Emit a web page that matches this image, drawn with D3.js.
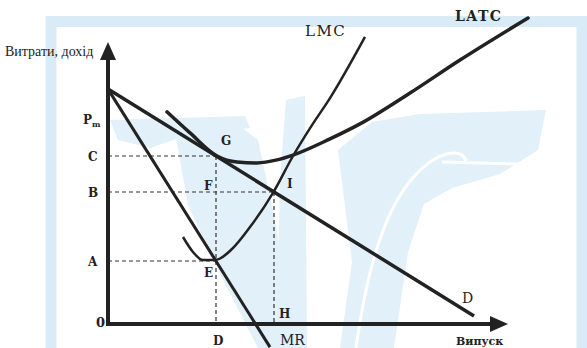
<!DOCTYPE html>
<html>
<head>
<meta charset="utf-8">
<script src="https://cdn.jsdelivr.net/npm/d3@7"></script>
<style>
  body { margin: 0; background: #fff; }
  svg { display: block; }
</style>
</head>
<body>
<div id="chart-area"></div>
<script>
// ceny i ilosci (skala umowna 0-100)
var pm = 78.3;
var priceLevels = [["C", 56], ["B", 44], ["A", 21]];
var qD = 27, qH = 41.5;

var demand = [[0, 78.3], [91.5, 2.7]];
var mr = [[0, 78.3], [40.5, -7.7]];
var latc = [[14.75, 70.7], [20.5, 63.7], [27.25, 56], [32.25, 54], [37.25, 53.7], [42.25, 54.7],
            [46.25, 56.3], [55.5, 61.7], [63, 66.7], [75.5, 77], [88, 88], [105, 102]];
var lmc = [[18.75, 29], [21.25, 24], [23.75, 21.3], [26.75, 21.3], [31, 25], [35.5, 32.3],
           [41.25, 43.7], [46.25, 56], [51, 66.3], [55.5, 75.3], [64.25, 95.7]];
var axisTop = 94, axisRight = 100;

var W = 587, H = 348;
var ink = "#222";

var svg = d3.select("#chart-area")
    .append("svg")
    .attr("width", W)
    .attr("height", H);

// tlo - znak wodny (jasnoniebieski)
var wm = svg.append("g").attr("fill", "#e2f0f9");
wm.append("rect")
    .attr("x", 51).attr("y", 21.5).attr("width", 531).attr("height", 400)
    .attr("fill", "none").attr("stroke", "#d8ebf6").attr("stroke-width", 11);
[
  "M110,120 L245,116 L250,128 L185,136 L150,148 L118,140 Z",
  "M176,138 L232,120 L258,140 L272,205 L298,348 L258,348 L224,282 L188,205 Z",
  "M286,100 L305,96 L307,348 L277,348 L280,180 Z",
  "M338,150 L372,122 L420,114 L546,110 L538,150 L500,174 L452,188 L424,204 L408,252 L394,348 L340,348 L352,262 Z"
].forEach(function (d) { wm.append("path").attr("d", d); });
wm.append("path")
    .attr("d", "M356,348 C368,262 388,192 430,162 C452,148 466,152 466,164")
    .attr("fill", "none").attr("stroke", "#fff").attr("stroke-width", 3);
wm.append("path")
    .attr("d", "M442,162 L518,164")
    .attr("fill", "none").attr("stroke", "#fff").attr("stroke-width", 3);

// skale
var x = d3.scaleLinear().domain([0, 100]).range([108, 508]);
var y = d3.scaleLinear().domain([0, 100]).range([324, 24]);

var line = d3.line().x(function (d) { return x(d[0]); }).y(function (d) { return y(d[1]); });
var smooth = d3.line().x(function (d) { return x(d[0]); }).y(function (d) { return y(d[1]); })
    .curve(d3.curveMonotoneX);

// linie przerywane
var dash = svg.append("g")
    .attr("stroke", "#333").attr("stroke-width", 1.2)
    .attr("stroke-dasharray", "4,3").attr("fill", "none");
priceLevels.forEach(function (p) {
    var qq = p[0] == "B" ? qH : qD;
    dash.append("line").attr("x1", x(0)).attr("x2", x(qq)).attr("y1", y(p[1])).attr("y2", y(p[1]));
});
dash.append("line").attr("x1", x(qD)).attr("x2", x(qD)).attr("y1", y(56)).attr("y2", y(0));
dash.append("line").attr("x1", x(qH)).attr("x2", x(qH)).attr("y1", y(44)).attr("y2", y(0));

// krzywe
svg.append("path").attr("d", line(demand)).attr("fill", "none")
    .attr("stroke", ink).attr("stroke-width", 3.5);
svg.append("path").attr("d", line(mr)).attr("fill", "none")
    .attr("stroke", ink).attr("stroke-width", 3);
svg.append("path").attr("d", smooth(latc)).attr("fill", "none")
    .attr("stroke", ink).attr("stroke-width", 3.5).attr("stroke-linecap", "round");
svg.append("path").attr("d", smooth(lmc)).attr("fill", "none")
    .attr("stroke", ink).attr("stroke-width", 2.5);

// osie ze strzalkami
svg.append("line").attr("x1", x(0)).attr("y1", y(0) + 2).attr("x2", x(0)).attr("y2", y(axisTop) + 10)
    .attr("stroke", ink).attr("stroke-width", 4);
svg.append("line").attr("x1", x(0) - 2).attr("y1", y(0)).attr("x2", x(axisRight) - 10).attr("y2", y(0))
    .attr("stroke", ink).attr("stroke-width", 4);
svg.append("path")
    .attr("d", "M" + x(0) + "," + y(axisTop) + " l-8,18 l16,0 Z").attr("fill", ink);
svg.append("path")
    .attr("d", "M" + x(axisRight) + "," + y(0) + " l-18,-8 l0,16 Z").attr("fill", ink);

// podpisy
function label(txt, px, py, size, bold, family) {
    return svg.append("text").attr("x", px).attr("y", py)
        .attr("font-family", family || "DejaVu Serif")
        .attr("font-size", size)
        .attr("font-weight", bold ? "bold" : "normal")
        .attr("fill", ink)
        .text(txt);
}

label("Витрати, дохід", 5, 56, 14, false, "Liberation Serif");
var pmText = label("P", 83, y(pm) + 35, 12, true);
pmText.append("tspan").attr("font-size", 8).attr("dy", 3).text("m");
priceLevels.forEach(function (p) {
    label(p[0], 88, y(p[1]) + 5, 12, true);
});
label("0", 96, y(0) + 3, 13, true);
label("D", x(qD) - 3, 345, 12, true);
label("H", x(qH) + 5, 318, 12, true);
label("G", x(qD) + 5, 145, 12, true);
label("F", x(qD) - 12, 190, 12, true);
label("I", x(qH) + 13, 188, 12, true);
label("E", x(qD) - 12, 277, 12, true);
label("LMC", 305, 36, 15, false).attr("letter-spacing", 1.5);
label("LATC", 455, 21, 14, true).attr("letter-spacing", 1.5);
label("D", 462, 303, 14, false);
label("MR", 280, 345, 14, false);
label("Випуск", 456, 345, 11, true);
</script>
</body>
</html>
